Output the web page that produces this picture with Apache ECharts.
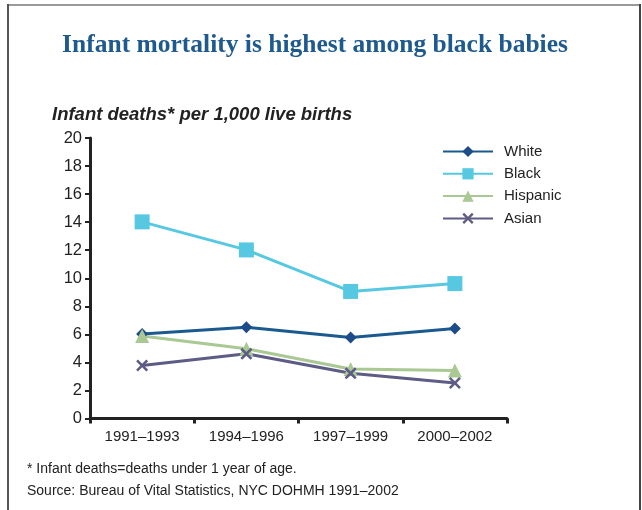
<!DOCTYPE html>
<html>
<head>
<meta charset="utf-8">
<script src="https://cdn.jsdelivr.net/npm/echarts@6/dist/echarts.min.js"></script>
<style>html,body{margin:0;padding:0;background:#fff}#c{width:642px;height:510px}</style>
</head>
<body>
<div id="c"></div>
<script>
var categories = ['1991\u20131993', '1994\u20131996', '1997\u20131999', '2000\u20132002'];
var white = [6.03, 6.5, 5.77, 6.42];
var black = [14.02, 12.02, 9.06, 9.62];
var hispanic = [5.88, 4.98, 3.53, 3.43];
var asian = [3.78, 4.61, 3.22, 2.53];
var yTicks = [0, 2, 4, 6, 8, 10, 12, 14, 16, 18, 20];

var xPath = 'path://M0,1.5L1.5,0L5,3.5L8.5,0L10,1.5L6.5,5L10,8.5L8.5,10L5,6.5L1.5,10L0,8.5L3.5,5Z';

var chart = echarts.init(document.getElementById('c'), null, {renderer: 'canvas'});
function mk(name, data, color, symbol, size, symColor) {
  return {
    name: name, type: 'line', data: data,
    symbol: symbol, symbolSize: size, showSymbol: true,
    lineStyle: {color: color, width: 3},
    itemStyle: {color: symColor || color, borderWidth: 0},
    emphasis: {disabled: true},
    animation: false
  };
}
chart.setOption({
  animation: false,
  title: {
    text: 'Infant mortality is highest among black babies',
    left: 310, textAlign: 'center', top: 27,
    textStyle: {fontFamily: 'Liberation Serif', fontWeight: 'bold', fontSize: 25.5, color: '#1f5a8e'}
  },
  legend: {
    orient: 'vertical', left: 437, top: 139, itemWidth: 50, itemHeight: 14, itemGap: 7.3,
    textStyle: {fontFamily: 'Liberation Sans', fontSize: 15, color: '#222', padding: [0, 0, 0, 6]},
    data: ['White', 'Black', 'Hispanic', 'Asian']
  },
  grid: {left: 90, right: 135, top: 138, bottom: 91.5, containLabel: false},
  xAxis: {
    type: 'category', data: categories, boundaryGap: true,
    axisLine: {lineStyle: {color: '#222', width: 3}},
    axisTick: {show: true, length: 5, lineStyle: {color: '#222', width: 3}, alignWithLabel: false},
    axisLabel: {fontFamily: 'Liberation Sans', fontSize: 15, color: '#222', margin: 11}
  },
  yAxis: {
    type: 'value', min: yTicks[0], max: yTicks[yTicks.length - 1], interval: 2,
    axisLine: {show: true, lineStyle: {color: '#222', width: 3}},
    axisTick: {show: true, length: 5, lineStyle: {color: '#222', width: 2}},
    splitLine: {show: false},
    axisLabel: {fontFamily: 'Liberation Sans', fontSize: 16.5, color: '#222', margin: 8},
    name: 'Infant deaths* per 1,000 live births',
    nameLocation: 'end', nameGap: 0,
    nameTextStyle: {fontFamily: 'Liberation Sans', fontWeight: 'bold', fontStyle: 'italic', fontSize: 18.5, color: '#222', align: 'left', verticalAlign: 'bottom', padding: [0, 0, 14, -38]}
  },
  series: [
    mk('White', white, '#1b5a8e', 'diamond', 12, '#1c4d8a'),
    mk('Black', black, '#56c8e2', 'rect', 15),
    mk('Hispanic', hispanic, '#a9c893', 'triangle', 14),
    mk('Asian', asian, '#5e5b85', xPath, 12)
  ],
  graphic: [
    {type: 'line', shape: {x1: 8, y1: 5, x2: 641, y2: 5}, style: {stroke: '#9a9a9a', lineWidth: 2}, silent: true},
    {type: 'line', shape: {x1: 8, y1: 4, x2: 8, y2: 510}, style: {stroke: '#555', lineWidth: 2}, silent: true},
    {type: 'line', shape: {x1: 640, y1: 4, x2: 640, y2: 510}, style: {stroke: '#444', lineWidth: 2}, silent: true},
    {type: 'text', left: 27, top: 462, style: {text: '* Infant deaths=deaths under 1 year of age.', font: '14px "Liberation Sans"', fill: '#222'}},
    {type: 'text', left: 27, top: 484, style: {text: 'Source: Bureau of Vital Statistics, NYC DOHMH 1991\u20132002', font: '14px "Liberation Sans"', fill: '#222'}}
  ]
});
</script>
</body>
</html>
